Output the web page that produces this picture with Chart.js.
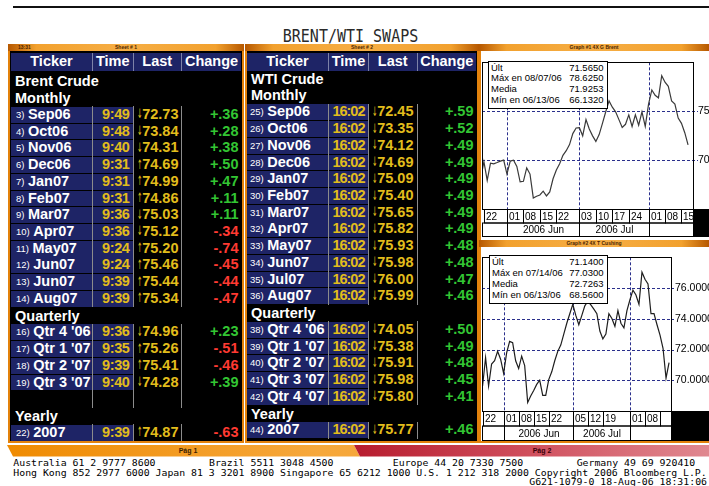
<!DOCTYPE html>
<html><head><meta charset="utf-8">
<script src="https://cdn.jsdelivr.net/npm/chart.js@4.4.0/dist/chart.umd.min.js"></script>
<style>
html,body{margin:0;padding:0;background:#fff;}
body{width:709px;height:486px;position:relative;overflow:hidden;font-family:'Liberation Sans',Arial,sans-serif;}
.abs{position:absolute;box-sizing:border-box;white-space:nowrap;}
.b{font-weight:bold;font-size:14.5px;color:#fff;}
.strip{background:linear-gradient(to right,#b65800,#f2a12e 12%,#f6ae45 50%,#f2a12e 88%,#b65800);color:#4a2500;font-size:5px;font-weight:bold;text-align:center;line-height:7px;}
.leg{background:#fff;border:1px solid #000;font-size:9.5px;color:#000;z-index:5;}
.leg div{position:relative;height:10.9px;line-height:10.9px;}
.leg span{position:absolute;right:3px;}
.mono{font-family:'DejaVu Sans Mono',monospace;font-size:9.85px;color:#000;line-height:10px;white-space:pre;transform:scaleY(0.84);transform-origin:left center;}
.arr{font-family:'DejaVu Sans',sans-serif;font-size:13px;transform:scaleX(0.5);transform-origin:left center;}
</style></head><body>
<script>
// ---------------- DATA ----------------
const titleText = 'BRENT/WTI SWAPS';

const brentNums = ['3)','4)','5)','6)','7)','8)','9)','10)','11)','12)','13)','14)','16)','17)','18)','19)','22)'];
const brentTickers = ['Sep06','Oct06','Nov06','Dec06','Jan07','Feb07','Mar07','Apr07','May07','Jun07','Jun07','Aug07',"Qtr 4 '06","Qtr 1 '07","Qtr 2 '07","Qtr 3 '07",'2007'];
const brentTimes = ['9:49','9:48','9:40','9:31','9:31','9:31','9:36','9:36','9:24','9:24','9:39','9:39','9:36','9:35','9:39','9:40','9:39'];
const brentDirs = ['↓','↓','↓','↑','↑','↑','↓','↓','↑','↑','↑','↑','↓','↑','↑','↓','↑'];
const brentLast = ['72.73','73.84','74.31','74.69','74.99','74.86','75.03','75.12','75.20','75.46','75.44','75.34','74.96','75.26','75.41','74.28','74.87'];
const brentChange = ['+.36','+.28','+.38','+.50','+.47','+.11','+.11','-.34','-.74','-.45','-.44','-.47','+.23','-.51','-.46','+.39','-.63'];
const brentSections = ['Monthly','Quarterly','Yearly'];
const brentSectionSizes = [12,4,1];

const wtiNums = ['25)','26)','27)','28)','29)','30)','31)','32)','33)','34)','35)','36)','38)','39)','40)','41)','42)','44)'];
const wtiTickers = ['Sep06','Oct06','Nov06','Dec06','Jan07','Feb07','Mar07','Apr07','May07','Jun07','Jul07','Aug07',"Qtr 4 '06","Qtr 1 '07","Qtr 2 '07","Qtr 3 '07","Qtr 4 '07",'2007'];
const wtiTimes = ['16:02','16:02','16:02','16:02','16:02','16:02','16:02','16:02','16:02','16:02','16:02','16:02','16:02','16:02','16:02','16:02','16:02','16:02'];
const wtiDirs = ['↓','↓','↓','↓','↓','↓','↓','↓','↓','↓','↓','↓','↓','↓','↓','↓','↓','↓'];
const wtiLast = ['72.45','73.35','74.12','74.69','75.09','75.40','75.65','75.82','75.93','75.98','76.00','75.99','74.05','75.38','75.91','75.98','75.80','75.77'];
const wtiChange = ['+.59','+.52','+.49','+.49','+.49','+.49','+.49','+.49','+.48','+.48','+.47','+.46','+.50','+.49','+.48','+.45','+.41','+.46'];
const wtiSections = ['Monthly','Quarterly','Yearly'];
const wtiSectionSizes = [12,5,1];

// Graph 1: Brent, one value per trading day (index -1 = 19 May 2006 ... 62 = 17 Aug 2006)
const brentFirstIndex = -1;
const brentSeries = [68.09,69.84,67.93,69.68,69.62,69.75,69.90,70.00,68.57,69.90,70.00,69.36,67.77,67.83,69.20,68.57,
  66.13,66.31,66.43,66.82,66.34,66.75,68.09,68.98,69.62,70.48,70.96,71.59,72.71,73.28,73.31,72.48,74.14,73.18,72.48,
  71.91,72.61,73.76,74.94,76.05,75.41,74.94,74.14,73.34,73.66,74.62,73.44,74.62,73.57,74.94,73.44,75.73,77.17,76.62,
  76.37,78.63,77.96,77.55,76.05,75.73,74.30,73.76,72.80,71.56];
const brentDayTicks = [0,7,12,17,22,29,34,39,44,50,55,60];
const brentDayLabels = ['22','01','08','15','22','03','10','17','24','01','08','15'];
const brentMonthTicks = [7,29,50];
const brentMonthLabels = ['2006 Jun','2006 Jul',''];
const brentYGrid = [70,75];
const brentYLabels = [70,75];
const brentLegendLabels = ['Últ','Máx en 08/07/06','Media','Mín en 06/13/06'];
const brentLegendValues = ['71.5650','78.6250','71.9253','66.1320'];

// Graph 2: WTI Cushing, one value per trading day (index 0 = 22 May 2006)
const wtiFirstIndex = 0;
const wtiSeries = [69.63,71.47,69.63,71.06,71.27,71.88,71.37,70.45,71.78,72.53,72.45,71.27,70.76,71.57,70.96,68.56,
  68.98,69.33,69.73,70.00,69.02,69.02,70.04,70.55,71.27,71.88,72.29,73.00,73.71,74.33,74.94,74.22,73.61,74.22,74.84,
  75.14,74.90,74.63,74.33,73.20,72.69,73.00,74.33,74.02,73.51,74.53,73.71,73.41,74.53,75.24,75.86,75.55,74.94,77.03,
  76.57,76.27,74.33,74.33,73.61,72.94,72.08,70.14,71.14];
const wtiDayTicks = [0,7,12,17,22,30,35,40,49,54,59];
const wtiDayLabels = ['22','01','08','15','22','05','12','19','01','08',''];
const wtiMonthTicks = [7,30,49];
const wtiMonthLabels = ['2006 Jun','2006 Jul',''];
const wtiYGrid = [68,70,72,74,76];
const wtiYLabels = [70,72,74,76];
const wtiLegendLabels = ['Últ','Máx en 07/14/06','Media','Mín en 06/13/06'];
const wtiLegendValues = ['71.1400','77.0300','72.7263','68.5600'];

const footerLine1 = ['Australia 61 2 9777 8600','Brazil 5511 3048 4500','Europe 44 20 7330 7500','Germany 49 69 920410'];
const footerLine2 = 'Hong Kong 852 2977 6000 Japan 81 3 3201 8900 Singapore 65 6212 1000 U.S. 1 212 318 2000 Copyright 2006 Bloomberg L.P.';
const footerLine3 = 'G621-1079-0 18-Aug-06 18:31:06';

// ---------------- HELPERS ----------------
const NAVY = '#1e2466', YEL = '#e2bd1c', GRN = '#33c633', RED = '#ff3a32', SEP = '#8c8c8c';
function px(o){const s={};for(const k in o){s[k]=typeof o[k]==='number'?o[k]+'px':o[k];}return s;}
function add(style, html, cls, parent){
  const d=document.createElement('div'); d.className='abs '+(cls||'');
  Object.assign(d.style, px(style)); if(html!=null) d.innerHTML=html;
  (parent||document.body).appendChild(d); return d;
}

// top rule + title
add({left:13,top:6,width:696,height:2,background:'#111'});
add({left:250,top:29,width:201,height:15,lineHeight:'15px',textAlign:'center',fontFamily:"'DejaVu Sans Mono',monospace",fontSize:'15px',color:'#2a2a2a',transform:'scaleY(1.2)'}, titleText);

// ---------------- PANELS ----------------
function panel(L, R){
  add({left:L,top:44,width:R-L,height:399,background:'#e3820c'});
  add({left:L+2,top:51,width:R-L-4,height:390,background:'#000'});
}
panel(8,244); panel(245,479);
add({left:8,top:44,width:236,height:7},'<span style="position:absolute;left:10px">13:31</span>Sheet # 1','strip');
add({left:245,top:44,width:234,height:7},'Sheet # 2','strip');

function buildTable(T, title, nums, tickers, times, dirs, lasts, changes, sections, sizes){
  const c = T.cols; // [t0,t1,m0,m1,l0,l1,g0,g1]
  const slots = [-1, 12, 18];
  const pitch = 16.74, h = 15.8;
  add({left:c[0],top:53,width:c[7]-c[0],height:17.6,background:NAVY});
  const heads=['Ticker','Time','Last','Change'];
  for(let i=0;i<4;i++){
    add({left:c[2*i],top:53,width:c[2*i+1]-c[2*i],height:17.6,lineHeight:'17.6px',textAlign:'center'},heads[i],'b');
  }
  T.seps.forEach(x=>add({left:x,top:53,width:1,height:17.6,background:'#7d82a8'}));
  const cy = s => T.base + pitch*s;
  const heading = (s, txt) => add({left:T.titleX,top:cy(s)-9,height:18,lineHeight:'18px'}, txt, 'b');
  heading(-2, title);
  let k=0;
  sizes.forEach((n, si)=>{
    heading(slots[si], sections[si]);
    for(let j=0;j<n;j++){
      const s = slots[si]+1+j, top = cy(s)-h/2;
      T.seps.forEach(x=>add({left:x,top:cy(s)-pitch/2,width:1,height:pitch,background:SEP}));
      add({left:c[0],top:top,width:c[1]-c[0],height:h,background:NAVY});
      add({left:c[2],top:top,width:c[3]-c[2],height:h,background:NAVY});
      add({left:T.idxX,top:top,height:h,lineHeight:h+'px'},
        '<span style="font-weight:normal;font-size:9.5px;position:relative;top:-1px;margin-right:3.5px">'+nums[k]+'</span>'+tickers[k],'b');
      add({left:c[2],top:top,width:T.timeR-c[2],height:h,lineHeight:h+'px',textAlign:'right',color:YEL,letterSpacing:T.timeLS+'px'},times[k],'b');
      add({left:T.arrowX,top:top-0.5,height:h,lineHeight:h+'px',color:YEL},dirs[k],'arr');
      add({left:c[4],top:top,width:T.numR-c[4],height:h,lineHeight:h+'px',textAlign:'right',color:YEL},lasts[k],'b');
      add({left:c[6],top:top,width:T.chgR-c[6],height:h,lineHeight:h+'px',textAlign:'right',color:changes[k][0]==='-'?RED:GRN},changes[k],'b');
      k++;
    }
    if(si<sizes.length-1){
      for(let s=slots[si]+1+n; s<slots[si+1]; s++){
        T.seps.forEach(x=>add({left:x,top:cy(s)-pitch/2,width:1,height:pitch,background:SEP}));
      }
    }
  });
}
buildTable({cols:[11,92,93,132.5,133.5,181,182,241],seps:[92,132.5,181],base:114.7,titleX:15,idxX:16,timeR:129.5,timeLS:-0.4,arrowX:136.8,numR:178.5,chgR:238.5},
  'Brent Crude', brentNums, brentTickers, brentTimes, brentDirs, brentLast, brentChange, brentSections, brentSectionSizes);
buildTable({cols:[247,328,329,368,369,416.5,417.5,476],seps:[328,368,416.5],base:112.2,titleX:251,idxX:250,timeR:364.5,timeLS:-1,arrowX:371.8,numR:413.5,chgR:473.5},
  'WTI Crude', wtiNums, wtiTickers, wtiTimes, wtiDirs, wtiLast, wtiChange, wtiSections, wtiSectionSizes);

// right panel frame
add({left:479,top:44,width:230,height:399,background:'#e3820c'});
add({left:481,top:51,width:228,height:189,background:'#fff'});
add({left:481,top:247,width:228,height:194,background:'#fff'});
add({left:479,top:44,width:230,height:7},'Graph #1 4X G Brent','strip');
add({left:479,top:240,width:230,height:7},'Graph #2 4X T Cushing','strip');

// legends
function legend(x,y,w,labels,values){
  const d=add({left:x,top:y,width:w,height:48.5,paddingLeft:'2px',paddingTop:'1px'},null,'leg');
  labels.forEach((l,i)=>{const r=document.createElement('div');r.innerHTML=l+'<span>'+values[i]+'</span>';d.appendChild(r);});
}
legend(488,60.5,119.5,brentLegendLabels,brentLegendValues);
legend(489,255,118.5,wtiLegendLabels,wtiLegendValues);

// bottom page bar
add({left:0,top:445,width:709,height:11.5,background:'linear-gradient(to right,#ef8a00,#f6a83c 45%,#f4a030 95%)',clipPath:'polygon(7px 0,354px 0,360px 100%,13px 100%)'});
add({left:0,top:445,width:709,height:11.5,background:'linear-gradient(to right,#b71c2e 50%,#d0505e 75%,#e08890)',clipPath:'polygon(354px 0,709px 0,709px 100%,360px 100%)'});
add({left:150,top:445,width:76,height:11.5,lineHeight:'11.5px',textAlign:'center',fontSize:'7px',fontWeight:'bold',color:'#3a2000'},'Pág 1');
add({left:504,top:445,width:76,height:11.5,lineHeight:'11.5px',textAlign:'center',fontSize:'7px',fontWeight:'bold',color:'#3a0008'},'Pág 2');

// footer
const cw = 5.93, fx = 13.3;
[0,33,64,95].forEach((col,i)=>add({left:fx+col*cw,top:457.8,height:10},footerLine1[i],'mono'));
add({left:fx,top:467.8,height:10},footerLine2,'mono');
add({left:fx+87*cw,top:476.8,height:10},footerLine3,'mono');

// ---------------- CHARTS ----------------
Chart.defaults.font.family = "'Liberation Sans', Arial, sans-serif";
const bbgPlugin = {
  id:'bbg',
  beforeDatasetsDraw(chart, args, o){
    const {ctx, chartArea:a, scales:{x,y}} = chart;
    ctx.save(); ctx.strokeStyle='#2a2f8c'; ctx.lineWidth=1; ctx.setLineDash([3,2]);
    o.yGrid.forEach(v=>{const p=Math.round(y.getPixelForValue(v))+0.5;ctx.beginPath();ctx.moveTo(a.left,p);ctx.lineTo(a.right+o.tickLen,p);ctx.stroke();});
    o.xGrid.forEach(v=>{const p=Math.round(x.getPixelForValue(v))+0.5;ctx.beginPath();ctx.moveTo(p,a.top);ctx.lineTo(p,a.bottom);ctx.stroke();});
    ctx.restore();
  },
  afterDraw(chart, args, o){
    const {ctx, chartArea:a, scales:{x}, width} = chart;
    ctx.save(); ctx.setLineDash([]); ctx.strokeStyle='#000'; ctx.lineWidth=1;
    const L=Math.round(a.left)+0.5, R=Math.round(a.right)+0.5, T=Math.round(a.top)+0.5, B=Math.round(a.bottom)+0.5, h=o.rowH;
    ctx.strokeRect(L,T,R-L,B-T);
    ctx.fillStyle='#000'; ctx.fillRect(Math.round(a.right),Math.round(a.bottom),width-Math.round(a.right),2*h+1);
    ctx.font=o.font; ctx.textBaseline='middle';
    const pos=o.dayTicks.map(v=>Math.round(Math.max(a.left,x.getPixelForValue(v)))+0.5);
    if(pos[0]>L+3) ctx.strokeRect(L,B,pos[0]-L,h);
    pos.forEach((p,k)=>{const q=k<pos.length-1?pos[k+1]:R; ctx.strokeRect(p,B,q-p,h); ctx.textAlign='left'; ctx.fillText(o.dayLabels[k],Math.max(p,L)+1.5,B+h/2+0.5);});
    const edges=[L,...o.monthTicks.map(v=>Math.round(x.getPixelForValue(v))+0.5),R];
    const labs=['',...o.monthLabels];
    for(let k=0;k<edges.length-1;k++){ctx.strokeRect(edges[k],B+h,edges[k+1]-edges[k],h);ctx.textAlign='center';ctx.fillText(labs[k],(edges[k]+edges[k+1])/2,B+h+h/2+0.5);}
    ctx.restore();
  }
};

function makeChart(box, series, first, cfg){
  const wrap=add(box); const cv=document.createElement('canvas'); wrap.appendChild(cv);
  new Chart(cv,{
    type:'line',
    data:{datasets:[{data:series.map((v,i)=>({x:first+i,y:v})),borderColor:cfg.lineColor,borderWidth:1.2,pointRadius:0,tension:0,fill:false}]},
    options:{
      responsive:true,maintainAspectRatio:false,animation:false,devicePixelRatio:1,events:[],
      layout:{padding:{left:1,top:cfg.padTop,right:0,bottom:0}},
      plugins:{legend:{display:false},tooltip:{enabled:false},
        bbg:{yGrid:cfg.yGrid,xGrid:cfg.monthTicks,tickLen:cfg.tickLen,rowH:cfg.rowH,font:'10px "Liberation Sans"',
          dayTicks:cfg.dayTicks,dayLabels:cfg.dayLabels,monthTicks:cfg.monthTicks,monthLabels:cfg.monthLabels}},
      scales:{
        x:{type:'linear',min:cfg.xMin,max:cfg.xMax,ticks:{display:false},grid:{display:false,drawTicks:false},border:{display:false},
           afterFit:s=>{s.height=cfg.axisH;}},
        y:{type:'linear',position:'right',min:cfg.yMin,max:cfg.yMax,
           ticks:{stepSize:cfg.step,padding:cfg.labelPad,color:'#000',font:{size:10.5},callback:v=>cfg.yLabels.includes(v)?v.toFixed(4):null},
           grid:{display:false,drawTicks:false},border:{display:false},afterFit:s=>{s.width=cfg.axisW;}}
      }
    },
    plugins:[bbgPlugin]
  });
}
makeChart({left:481,top:51,width:228,height:186}, brentSeries, brentFirstIndex,
  {lineColor:'#3a3a3a',padTop:1,yGrid:brentYGrid,yLabels:brentYLabels,yMin:65,yMax:80,step:5,tickLen:5,labelPad:5,axisW:16,axisH:28,rowH:13.5,
   xMin:-0.58,xMax:63.5,dayTicks:brentDayTicks,dayLabels:brentDayLabels,monthTicks:brentMonthTicks,monthLabels:brentMonthLabels});
makeChart({left:481,top:247,width:228,height:194}, wtiSeries, wtiFirstIndex,
  {lineColor:'#1e1e1e',padTop:0,yGrid:wtiYGrid,yLabels:wtiYLabels,yMin:68,yMax:78,step:2,tickLen:3,labelPad:4,axisW:38,axisH:30,rowH:14.5,
   xMin:-0.19,xMax:62.65,dayTicks:wtiDayTicks,dayLabels:wtiDayLabels,monthTicks:wtiMonthTicks,monthLabels:wtiMonthLabels});
</script>
</body></html>
